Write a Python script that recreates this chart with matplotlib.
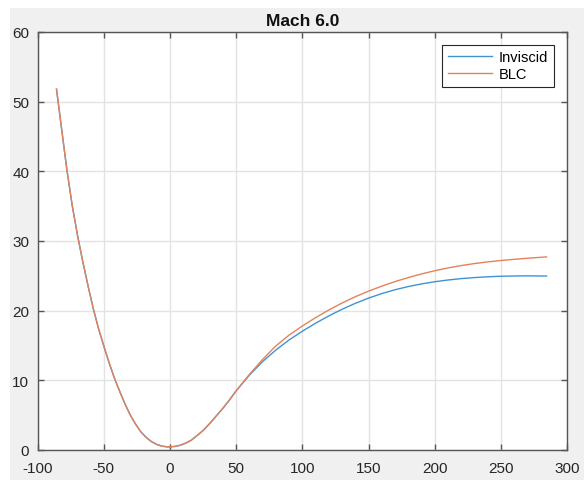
import matplotlib
matplotlib.use("Agg")
import matplotlib.pyplot as plt
from matplotlib.patches import Rectangle

plt.rcParams['font.family'] = ['Liberation Sans', 'DejaVu Sans']
plt.rcParams['axes.unicode_minus'] = False

# Shared branch (both series coincide)
x_common = [-85.8, -82, -78, -74, -70, -66, -62, -58, -54, -50, -46, -42, -38, -34,
            -30, -26, -22, -18, -14, -10, -6, -2, 0, 4, 8, 12, 16, 20, 25, 30, 35,
            40, 45, 50]
y_common = [51.8, 46.2, 40.3, 35.2, 30.9, 27.1, 23.6, 20.3, 17.4, 14.9, 12.5, 10.3,
            8.4, 6.6, 5.0, 3.7, 2.6, 1.8, 1.2, 0.8, 0.55, 0.45, 0.45, 0.52, 0.7, 1.0,
            1.4, 2.0, 2.8, 3.8, 4.9, 6.0, 7.2, 8.5]

x_tail = [60, 70, 80, 90, 100, 110, 120, 130, 140, 150, 160, 170, 180, 190, 200,
          210, 220, 230, 240, 250, 260, 270, 284.5]
y_inviscid_tail = [10.75, 12.7, 14.35, 15.8, 17.05, 18.2, 19.25, 20.2, 21.05, 21.8,
                   22.45, 23.0, 23.46, 23.84, 24.15, 24.4, 24.6, 24.75, 24.86, 24.94,
                   24.98, 25.0, 24.97]
y_blc_tail = [10.85, 13.0, 14.95, 16.5, 17.8, 19.0, 20.1, 21.1, 22.0, 22.8, 23.52,
              24.17, 24.75, 25.27, 25.73, 26.13, 26.47, 26.76, 27.0, 27.2, 27.37,
              27.52, 27.72]

x_ticks = [-100, -50, 0, 50, 100, 150, 200, 250, 300]
y_ticks = [0, 10, 20, 30, 40, 50, 60]
title = "Mach 6.0"
labels = ["Inviscid", "BLC"]

x_inv = x_common + x_tail
y_inv = y_common + y_inviscid_tail
x_blc = x_common + x_tail
y_blc = y_common + y_blc_tail

fig = plt.figure(figsize=(5.84, 4.81), dpi=100, facecolor='white')
fig.patches.append(Rectangle((10/584, 0), 1, 1 - 9/481, transform=fig.transFigure,
                             facecolor='#F0F0F0', edgecolor='none', zorder=-10))

ax = fig.add_axes([37.7/584, 1 - 451/481, (567 - 37.7)/584, (451 - 33)/481])
ax.set_facecolor('white')
ax.plot(x_inv, y_inv, color='#3F93D3', lw=1.0, label=labels[0])
ax.plot(x_blc, y_blc, color='#E4825A', lw=1.0, label=labels[1])

ax.set_xlim(-100, 300)
ax.set_ylim(0, 60)
ax.set_xticks(x_ticks)
ax.set_yticks(y_ticks)
ax.grid(True, color='#E3E3E3', lw=1.0)
ax.set_axisbelow(True)
ax.tick_params(direction='in', length=4.5, width=1, colors='#555555',
               labelcolor='#262626', labelsize=11, top=True, right=True)
ax.tick_params(axis='x', pad=8)
ax.tick_params(axis='y', pad=6)
for s in ax.spines.values():
    s.set_color('#555555')
    s.set_linewidth(1.0)

ax.set_title(title, fontsize=12.5, fontweight='bold', pad=5, color='#111111')

leg = ax.legend(loc='upper right', bbox_to_anchor=(0.975, 0.97), borderaxespad=0,
                fontsize=10.5, handlelength=3.0, handletextpad=0.45, fancybox=False,
                framealpha=1, edgecolor='#262626', borderpad=0.4, labelspacing=0.2)
leg.get_frame().set_linewidth(0.8)

fig.savefig('out.png', dpi=100, facecolor=fig.get_facecolor())
